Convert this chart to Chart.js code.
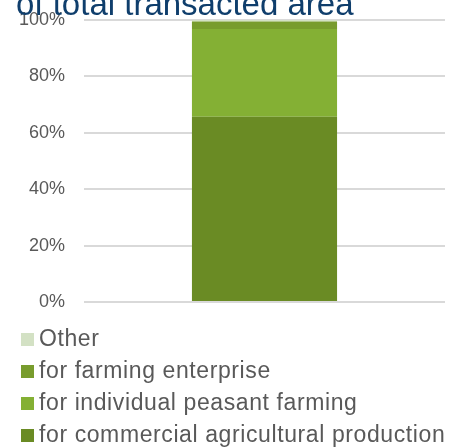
<!DOCTYPE html>
<html>
<head>
<meta charset="utf-8">
<script src="https://cdn.jsdelivr.net/npm/chart.js@4"></script>
<style>
  html, body { margin: 0; padding: 0; background: #fff; overflow: hidden; }
  #wrap { position: relative; width: 452px; height: 448px; }
  #chart { position: absolute; left: 0; top: 0; }
  #title { position: absolute; left: 16px; top: -13.4px; font: 33px "Liberation Sans", Arial, sans-serif; line-height: 33px; color: #0f3e6c; white-space: nowrap; }
  .lg { position: absolute; left: 0; height: 23px; font: 23px "Liberation Sans", Arial, sans-serif; line-height: 23px; letter-spacing: 0.6px; color: #595959; white-space: nowrap; }
  .lg .sw { position: absolute; left: 21px; top: 6px; width: 13px; height: 13px; }
  .lg .tx { position: absolute; left: 39px; top: 0; }
</style>
</head>
<body>
<div id="wrap">
  <canvas id="chart" width="452" height="448"></canvas>
  <div id="title">of total transacted area</div>
  <div id="legend"></div>
</div>
<script>
const categories = [""];
const seriesNames = ["for commercial agricultural production", "for individual peasant farming", "for farming enterprise", "Other"];
const commercialAgri = [65.7];
const individualPeasant = [31.1];
const farmingEnterprise = [2.7];
const other = [0.5];
const yTicks = [0, 20, 40, 60, 80, 100];
const colors = ["#6a8b24", "#84b034", "#789c2d", "#d3e1c4"];

const seriesValues = [commercialAgri, individualPeasant, farmingEnterprise, other];

const chart = new Chart(document.getElementById('chart'), {
  type: 'bar',
  data: {
    labels: categories,
    datasets: seriesNames.map((n, i) => ({
      label: n,
      data: seriesValues[i],
      backgroundColor: colors[i],
      borderWidth: 0,
      barPercentage: 0.402,
      categoryPercentage: 1.0
    }))
  },
  options: {
    responsive: false,
    animation: false,
    layout: { padding: { left: 0, right: 7, top: 20, bottom: 146 } },
    plugins: { legend: { display: false }, title: { display: false }, tooltip: { enabled: false } },
    scales: {
      x: { stacked: true, display: false },
      y: {
        stacked: true,
        min: 0, max: 100,
        afterBuildTicks(scale) { scale.ticks = yTicks.map(v => ({ value: v })); },
        afterFit(scale) { scale.width = 84; scale.paddingTop = 0; scale.paddingBottom = 0; },
        border: { display: false },
        grid: { color: '#d9d9d9', lineWidth: 2, drawTicks: false },
        ticks: {
          padding: 19,
          color: '#595959',
          font: { family: '"Liberation Sans", Arial, sans-serif', size: 18 },
          callback: v => v + '%'
        }
      }
    }
  }
});

const legend = document.getElementById('legend');
const ds = chart.data.datasets.slice().reverse();
ds.forEach((d, i) => {
  const baseline = 346.5 + 32 * i;
  const item = document.createElement('div');
  item.className = 'lg';
  item.style.top = (baseline - 19.46) + 'px';
  const sw = document.createElement('span');
  sw.className = 'sw';
  sw.style.background = d.backgroundColor;
  const tx = document.createElement('span');
  tx.className = 'tx';
  tx.textContent = d.label;
  item.appendChild(sw);
  item.appendChild(tx);
  legend.appendChild(item);
});
</script>
</body>
</html>
